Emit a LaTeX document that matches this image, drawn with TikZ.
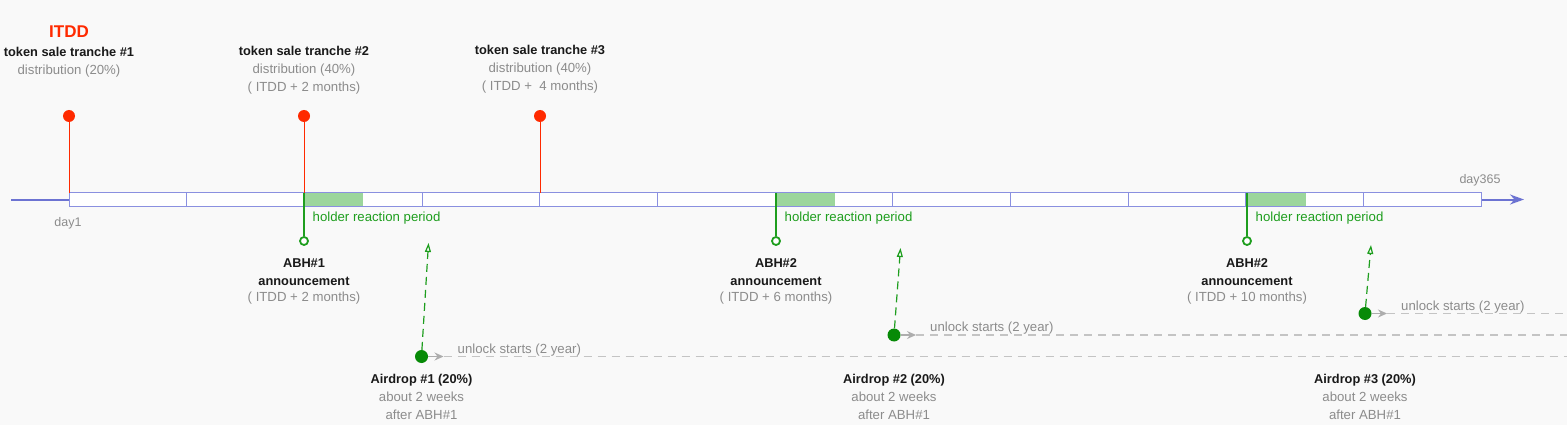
\documentclass[tikz,border=0pt]{standalone}
\usepackage{fontspec}
\setmainfont{Liberation Sans}
\usetikzlibrary{arrows.meta,positioning}

\definecolor{bgcol}{HTML}{F9F9F9}
\definecolor{barcol}{HTML}{8A90E0}
\definecolor{axiscol}{HTML}{6C73D2}
\definecolor{pinred}{HTML}{FF2A00}
\definecolor{hgreen}{HTML}{1E9E1E}
\definecolor{dgreen}{HTML}{078A07}
\definecolor{fillgreen}{HTML}{9CD69C}
\definecolor{txtgray}{HTML}{8C8C8C}
\definecolor{dashgray}{HTML}{C4C4C4}
\definecolor{arrgray}{HTML}{ADADAD}

\begin{document}
\begin{tikzpicture}[x=1pt, y=-1pt, >=Stealth,
    title/.style={anchor=base, inner sep=0pt, font=\fontsize{12.8}{15}\selectfont\bfseries, text=black!90},
    sub/.style={anchor=base, inner sep=0pt, font=\fontsize{13.2}{15}\selectfont, text=txtgray},
    redpin/.style={circle, fill=pinred, minimum size=12pt, inner sep=0pt},
    abhpin/.style={circle, draw=hgreen, fill=white, line width=1.8pt, minimum size=8pt, inner sep=0pt},
    droppin/.style={circle, fill=dgreen, minimum size=13pt, inner sep=0pt},
    redline/.style={pinred, line width=1pt},
    gline/.style={hgreen, line width=1.3pt},
    gdash/.style={hgreen, line width=1.2pt, dash pattern=on 8pt off 5pt, -{Triangle[open, length=9pt, width=6pt]}},
    grayarrow/.style={arrgray, line width=1.3pt, -{Stealth[length=9pt, width=8pt, inset=3pt]}},
    grayline/.style={dashgray, line width=1.5pt, dash pattern=on 8pt off 6pt}]

    % background
    \fill[bgcol] (0,0) rectangle (1567,425);
    \useasboundingbox (0,0) rectangle (1567,425);

    % timeline axis
    \coordinate (start) at (11,199.5);
    \coordinate (d1) at (69,199.5);
    \coordinate (d365) at (1481,199.5);
    \coordinate (tip) at (1524,199.5);
    \draw[axiscol, line width=2pt] (start) -- (d1);
    \draw[axiscol, line width=2pt, -{Stealth[length=14pt, width=10pt]}] (d365) -- (tip);
    \fill[white] (69,193) rectangle (1481,206);
    \foreach \x in {304, 776, 1247} {
        \fill[fillgreen] (\x,193) rectangle ++(58.8,13);
    }
    \foreach \i in {0,...,11} {
        \draw[barcol, line width=1pt] ({69+\i*117.67},193) rectangle ++(117.67,13);
    }
    \node[sub, font=\fontsize{12.5}{15}\selectfont] (day1) at (68,226) {day1};
    \node[sub, font=\fontsize{12.5}{15}\selectfont] (day365) at (1480,184) {day365};

    % token sale tranches
    \node[anchor=base, inner sep=0pt, font=\fontsize{17}{20}\selectfont\bfseries, text=pinred] (itdd) at (69,38) {ITDD};
    \node[title] (tr1) at (69,57) {token sale tranche \#1};
    \node[sub] (tr1d) at (69,75) {distribution (20\%)};
    \node[title] (tr2) at (304,55.5) {token sale tranche \#2};
    \node[sub] (tr2d) at (304,73.5) {distribution (40\%)};
    \node[sub] (tr2t) at (304,91.5) {( ITDD + 2 months)};
    \node[title] (tr3) at (540,54.5) {token sale tranche \#3};
    \node[sub] (tr3d) at (540,72.5) {distribution (40\%)};
    \node[sub] (tr3t) at (540,90.5) {( ITDD +~ 4 months)};

    \foreach \n/\x in {1/69, 2/304, 3/540} {
        \node[redpin] (pin\n) at (\x,116) {};
        \coordinate (bar\n) at (\x,193);
        \draw[redline] (pin\n) -- (bar\n);
    }

    % announcements and holder reaction period
    \foreach \n/\x in {1/304, 2/776, 3/1247} {
        \coordinate (top\n) at (\x,193);
        \node[abhpin] (abh\n) at (\x,241) {};
        \draw[gline] (top\n) -- (abh\n);
        \node[anchor=base west, inner sep=0pt, font=\fontsize{13.2}{15}\selectfont, text=hgreen] (hold\n) at (\x+8.5,221) {holder reaction period};
        \node[title] (abhname\n) at (\x,267) {\ifnum\n=1 ABH\#1\else ABH\#2\fi};
        \node[title] (abhann\n) at (\x,285) {announcement};
    }
    \node[sub] (abhtime1) at (304,301) {( ITDD + 2 months)};
    \node[sub] (abhtime2) at (776,301) {( ITDD + 6 months)};
    \node[sub] (abhtime3) at (1247,301) {( ITDD + 10 months)};

    % airdrops and unlock
    \foreach \n/\x/\y/\tx/\ty in {1/421.5/356.5/428.5/243, 2/894/335/900.5/248, 3/1365/313.5/1371/245} {
        \node[droppin] (drop\n) at (\x,\y) {};
        \coordinate (aim\n) at (\tx,\ty);
        \draw[gdash] (drop\n) -- (aim\n);
        \coordinate (unl\n) at (\x+22,\y);
        \coordinate (end\n) at (1567,\y);
        \draw[grayarrow] (drop\n) -- (unl\n);
        \draw[grayline] (unl\n) -- (end\n);
        \node[sub, anchor=base west] (unltxt\n) at (\x+36,\y-3.5) {unlock starts (2 year)};
        \node[title] (airname\n) at (\x,383) {Airdrop \#\n\ (20\%)};
        \node[sub] (airweek\n) at (\x,401) {about 2 weeks};
        \node[sub] (airafter\n) at (\x,419) {after ABH\#1};
    }
\end{tikzpicture}
\end{document}
